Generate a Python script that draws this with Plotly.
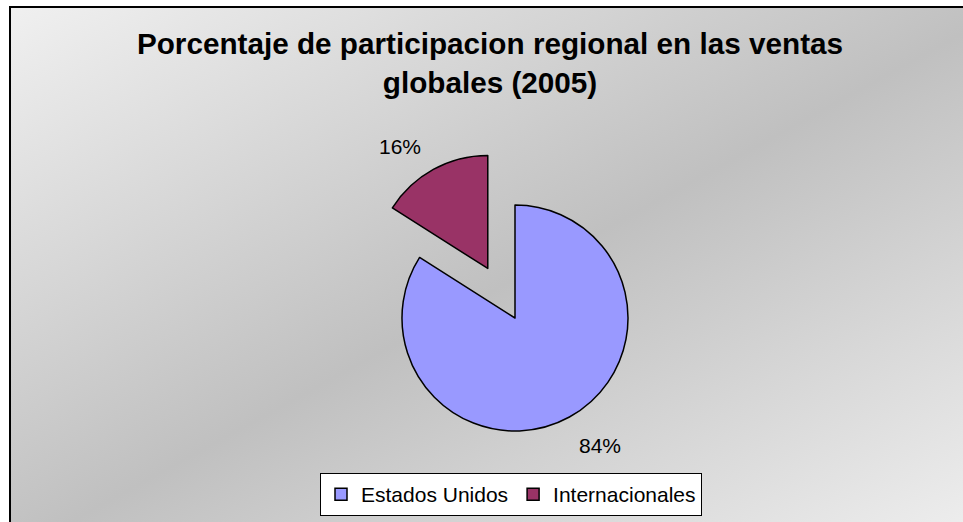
import base64
import math
import plotly.graph_objects as go

# ---- data ----
categories = ["Estados Unidos", "Internacionales"]
shares = [84, 16]
pct_labels = ["84%", "16%"]
colors = ["#9999FF", "#993366"]
pulls = [0, 0.5]
title_text = "Porcentaje de participacion regional en las ventas<br>globales (2005)"

W, H = 963, 522
FONT = "Liberation Sans, Arial, sans-serif"

# pie geometry (pixels)
cx, cy = 515, 318
box = 339
dom_x = [(cx - box / 2) / W, (cx + box / 2) / W]
dom_y = [1 - (cy + box / 2) / H, 1 - (cy - box / 2) / H]
r = box / (2 + 2 * max(pulls))

fig = go.Figure()
fig.add_trace(go.Pie(
    labels=categories, values=shares, sort=False, direction="clockwise",
    rotation=0, pull=pulls,
    marker=dict(colors=colors, line=dict(color="black", width=1.5)),
    textinfo="none", hoverinfo="label+percent",
    domain=dict(x=dom_x, y=dom_y),
))

# percentage labels placed from slice mid-angles
label_dist = [1.36, 1.83]
label_nudge = [-5, -5]
total = sum(shares)
cum = 0
annotations = []
for i, v in enumerate(shares):
    mid = (cum + v / 2) / total * 360 + label_nudge[i]
    cum += v
    a = math.radians(mid)
    px = cx + math.sin(a) * label_dist[i] * r
    py = cy - math.cos(a) * label_dist[i] * r
    annotations.append(dict(
        x=px / W, y=1 - py / H, xref="paper", yref="paper",
        text=pct_labels[i], showarrow=False,
        font=dict(family=FONT, size=21, color="black"),
        xanchor="center", yanchor="middle",
    ))

svg = ('<svg xmlns="http://www.w3.org/2000/svg" width="100" height="100" '
       'viewBox="0 0 100 100" preserveAspectRatio="none">'
       '<defs><linearGradient id="g" x1="0" y1="0" x2="1" y2="1">'
       '<stop offset="0" stop-color="#f0f0f0"/>'
       '<stop offset="0.5" stop-color="#c0c0c0"/>'
       '<stop offset="1" stop-color="#f2f2f2"/>'
       '</linearGradient></defs>'
       '<rect x="0" y="0" width="100" height="100" fill="url(#g)"/></svg>')
src = "data:image/svg+xml;base64," + base64.b64encode(svg.encode()).decode()

left, top = 10, 7
fig.update_layout(
    width=W, height=H,
    margin=dict(l=0, r=0, t=0, b=0),
    paper_bgcolor="white",
    font=dict(family=FONT, color="black"),
    title=dict(text=title_text, x=490 / W, xanchor="center",
               y=1 - 54 / H, yanchor="top",
               font=dict(family=FONT, size=29.7, color="black", weight="bold")),
    images=[dict(source=src, xref="paper", yref="paper",
                 x=left / W, y=1 - top / H, sizex=1.05 - left / W, sizey=1.05,
                 xanchor="left", yanchor="top", sizing="stretch", layer="below")],
    shapes=[dict(type="rect", xref="paper", yref="paper",
                 x0=left / W, x1=1.05, y0=-0.05, y1=1 - top / H,
                 line=dict(color="black", width=2), fillcolor="rgba(0,0,0,0)")],
    legend=dict(orientation="h", x=511 / W, xanchor="center",
                y=1 - 516 / H, yanchor="bottom",
                bgcolor="white", bordercolor="black", borderwidth=1,
                font=dict(family=FONT, size=21, color="black"),
                itemwidth=30),
    annotations=annotations,
)

fig.write_html("out.html",
               config={"displayModeBar": False},
               post_script="document.body.style.margin='0';document.body.style.overflow='hidden';")
